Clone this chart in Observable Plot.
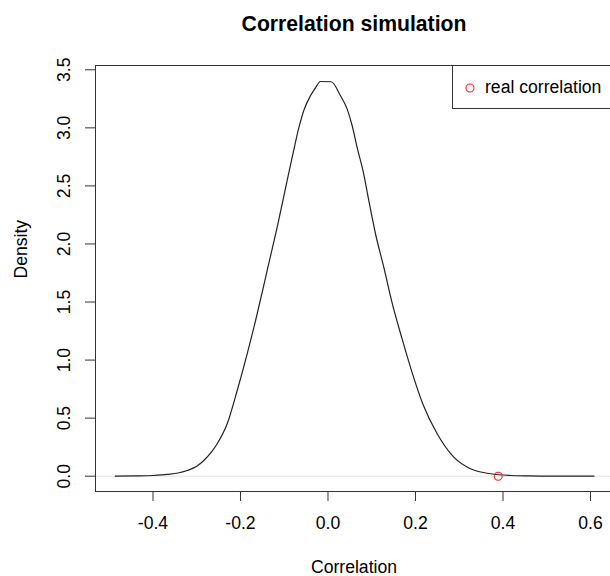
<!DOCTYPE html>
<html>
<head>
<meta charset="utf-8">
<script src="https://cdn.jsdelivr.net/npm/d3@7"></script>
<script src="https://cdn.jsdelivr.net/npm/@observablehq/plot@0.6"></script>
<style>
  body { margin: 0; background: #fff; overflow: hidden; }
  #wrap { position: relative; width: 610px; height: 576px; overflow: hidden;
          font-family: "Liberation Sans", Arial, Helvetica, sans-serif; }
  #legend { position: absolute; left: 452px; top: 65px; width: 161px; height: 44px;
            border: 1px solid #333; background: #fff; box-sizing: border-box; }
  #legend svg { position: absolute; left: 11px; top: 16px; }
  #legend span { position: absolute; left: 32px; top: 10px; font-size: 17.6px; color: #000; line-height: 22px; }
</style>
</head>
<body>
<div id="wrap"></div>
<script>
// Density curve of simulated correlations
const corrX = [-0.486, -0.44, -0.40, -0.3675, -0.34, -0.3218, -0.30, -0.2839, -0.268, -0.2533,
  -0.2304, -0.2075, -0.1847, -0.1618, -0.139, -0.1161, -0.0933, -0.0818, -0.0667, -0.0553,
  -0.040, -0.0286, -0.0171, 0.0073, 0.0286, 0.0439, 0.0553, 0.0667, 0.0818, 0.0933,
  0.1086, 0.1275, 0.1467, 0.1696, 0.1925, 0.2170, 0.2496, 0.2875, 0.3257, 0.3714,
  0.4171, 0.46, 0.509, 0.608];
const densY = [0.000, 0.002, 0.006, 0.015, 0.030, 0.049, 0.085, 0.135, 0.200, 0.279,
  0.451, 0.738, 1.054, 1.399, 1.772, 2.145, 2.547, 2.747, 3.000, 3.150,
  3.276, 3.345, 3.399, 3.397, 3.276, 3.161, 3.018, 2.830, 2.600, 2.374,
  2.088, 1.800, 1.490, 1.180, 0.890, 0.620, 0.365, 0.164, 0.064, 0.021,
  0.006, 0.002, 0.000, 0.000];
// Observed ("real") correlation
const realX = [0.389];
const realY = [0];
const xTicks = [-0.4, -0.2, 0.0, 0.2, 0.4, 0.6];
const yTicks = [0, 0.5, 1.0, 1.5, 2.0, 2.5, 3.0, 3.5];
const titleText = "Correlation simulation";
const xLabel = "Correlation";
const yLabel = "Density";
const legendLabel = "real correlation";

const curve = corrX.map((x, i) => ({x, y: densY[i]}));
const real = realX.map((x, i) => ({x, y: realY[i]}));
const fmt = d => d.toFixed(1);
const FONT = '"Liberation Sans", Arial, Helvetica, sans-serif';

const chart = Plot.plot({
  width: 610, height: 576,
  marginLeft: 95, marginRight: -2, marginTop: 65, marginBottom: 85,
  style: {fontFamily: FONT, fontSize: "17.6px", color: "#000", background: "#fff", overflow: "hidden"},
  x: {domain: [-0.5314, 0.6503]},
  y: {domain: [-0.1318, 3.537]},
  marks: [
    Plot.ruleY([0], {stroke: "#e4e4e4", strokeWidth: 1}),
    Plot.line(curve, {x: "x", y: "y", stroke: "#222", strokeWidth: 1.2, curve: "monotone-x"}),
    Plot.dot(real, {x: "x", y: "y", r: 4, stroke: "#ff2020", fill: "none", strokeWidth: 1.1}),
    Plot.frame({stroke: "#333", strokeWidth: 1}),
    Plot.axisX(xTicks, {tickSize: 10, tickPadding: 15, tickFormat: fmt, label: null, fontSize: 17.6, stroke: "#333"}),
    Plot.axisY(yTicks, {tickSize: 10, tickRotate: -90, tickPadding: 15.4, tickFormat: fmt, label: null, fontSize: 17.6, stroke: "#333"}),
    Plot.text([titleText], {frameAnchor: "top", dy: -35, lineAnchor: "bottom", fontWeight: "bold", fontSize: 21.2, text: d => d}),
    Plot.text([xLabel], {frameAnchor: "bottom", dy: 81, lineAnchor: "bottom", fontSize: 17.6, text: d => d}),
    Plot.text([yLabel], {frameAnchor: "left", dx: -69, rotate: -90, lineAnchor: "bottom", fontSize: 17.6, text: d => d})
  ]
});
const wrap = document.getElementById("wrap");
wrap.appendChild(chart);

// Legend (R-style "topright" box)
const leg = document.createElement("div");
leg.id = "legend";
leg.innerHTML = '<svg width="12" height="12"><circle cx="6" cy="6" r="4" fill="none" stroke="#ff2020" stroke-width="1.1"></circle></svg><span></span>';
leg.querySelector("span").textContent = legendLabel;
wrap.appendChild(leg);
</script>
</body>
</html>
